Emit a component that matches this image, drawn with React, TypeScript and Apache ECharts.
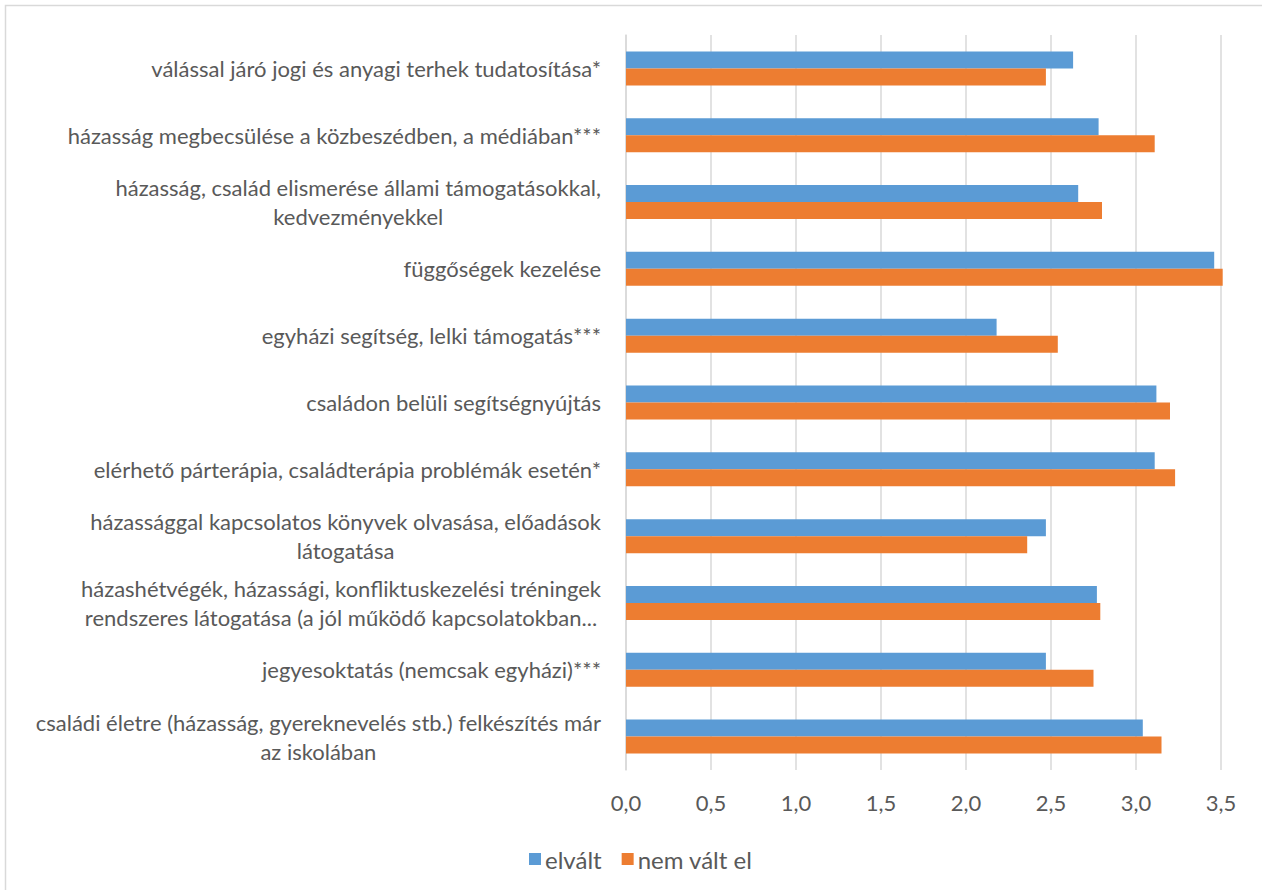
import React, { useEffect, useRef } from "react";
import * as echarts from "echarts";

const categories: string[] = [
  "válással járó jogi és anyagi terhek tudatosítása*",
  "házasság megbecsülése a közbeszédben, a médiában***",
  "házasság, család elismerése állami támogatásokkal,\nkedvezményekkel",
  "függőségek kezelése",
  "egyházi segítség, lelki támogatás***",
  "családon belüli segítségnyújtás",
  "elérhető párterápia, családterápia problémák esetén*",
  "házassággal kapcsolatos könyvek olvasása, előadások\nlátogatása",
  "házashétvégék, házassági, konfliktuskezelési tréningek\nrendszeres látogatása (a jól működő kapcsolatokban...",
  "jegyesoktatás (nemcsak egyházi)***",
  "családi életre (házasság, gyereknevelés stb.) felkészítés már\naz iskolában",
];

const elvalt: number[] = [2.63, 2.78, 2.66, 3.46, 2.18, 3.12, 3.11, 2.47, 2.77, 2.47, 3.04];
const nemValtEl: number[] = [2.47, 3.11, 2.8, 3.51, 2.54, 3.2, 3.23, 2.36, 2.79, 2.75, 3.15];

const seriesNames: string[] = ["elvált", "nem vált el"];

const FONT = "Lato, 'Open Sans', sans-serif";
const FS = 22;
const TEXT = "#595959";

export default function App() {
  const ref = useRef<HTMLDivElement>(null);
  useEffect(() => {
    document.body.style.margin = "0";
    const chart = echarts.init(ref.current!, null, { renderer: "svg" });
    chart.setOption({
      animation: false,
      backgroundColor: "#ffffff",
      textStyle: { fontFamily: FONT },
      graphic: [
        {
          type: "rect",
          shape: { x: 5.5, y: 5.5, width: 1400, height: 1000 },
          style: { fill: "none", stroke: "#d9d9d9", lineWidth: 1.5 },
          silent: true,
        },
      ],
      grid: { left: 626, right: 41, top: 35, bottom: 120, containLabel: false },
      legend: {
        data: seriesNames,
        left: 524,
        top: 842,
        itemWidth: 12,
        itemHeight: 12,
        itemGap: 20,
        icon: "rect",
        textStyle: { color: TEXT, fontSize: 24, fontFamily: FONT, padding: [0, 0, 0, -1] },
      },
      xAxis: {
        type: "value",
        min: 0,
        max: 3.5,
        interval: 0.5,
        axisLine: { show: false },
        axisTick: { show: false },
        splitLine: { lineStyle: { color: "#d9d9d9", width: 1.5 } },
        axisLabel: {
          color: TEXT,
          fontSize: FS,
          fontFamily: FONT,
          margin: 21,
          formatter: (v: number) => v.toFixed(1).replace(".", ","),
        },
      },
      yAxis: {
        type: "category",
        inverse: true,
        data: categories,
        axisLine: { show: true, lineStyle: { color: "#d9d9d9", width: 1.5 } },
        axisTick: { show: false },
        axisLabel: {
          margin: 25,
          align: "right",
          color: TEXT,
          fontSize: FS,
          fontFamily: FONT,
          lineHeight: 29,
          formatter: (v: string) =>
            v
              .split("\n")
              .map((l) => "{c|" + l + "}")
              .join("\n"),
          rich: {
            c: {
              align: "center",
              color: TEXT,
              fontSize: FS,
              fontFamily: FONT,
              lineHeight: 29,
            },
          },
        },
      },
      series: [
        {
          name: seriesNames[0],
          type: "bar",
          data: elvalt,
          barWidth: 17,
          barGap: "0%",
          itemStyle: { color: "#5b9bd5" },
          clip: false,
        },
        {
          name: seriesNames[1],
          type: "bar",
          data: nemValtEl,
          barWidth: 17,
          barGap: "0%",
          itemStyle: { color: "#ed7d31" },
          clip: false,
        },
      ],
    });
    return () => chart.dispose();
  }, []);
  return <div ref={ref} style={{ width: 1262, height: 890 }} />;
}
